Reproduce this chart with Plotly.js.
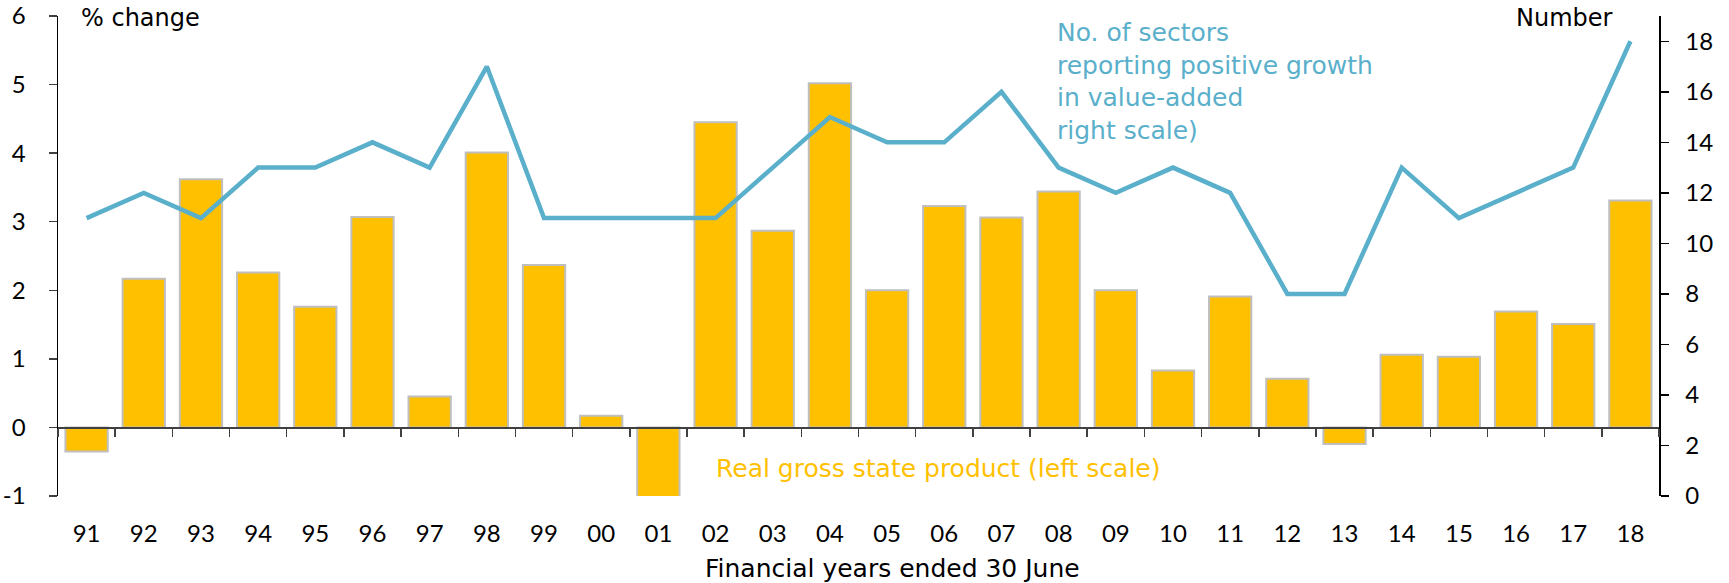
<!DOCTYPE html>
<html>
<head>
<meta charset="utf-8">
<script src="https://cdn.plot.ly/plotly-3.0.1.min.js"></script>
<style>html,body{margin:0;padding:0;background:#fff;}#chart{width:1729px;height:583px;}</style>
</head>
<body>
<div id="chart"></div>
<script>
const years = ["91","92","93","94","95","96","97","98","99","00","01","02","03","04","05","06","07","08","09","10","11","12","13","14","15","16","17","18"];
const gspGrowth = [-0.35,2.17,3.62,2.26,1.76,3.07,0.45,4.01,2.37,0.17,-1.02,4.45,2.87,5.02,2.00,3.23,3.06,3.44,2.00,0.83,1.91,0.71,-0.24,1.06,1.03,1.69,1.51,3.31];
const sectorsPositive = [11,12,11,13,13,14,13,17,11,11,11,11,13,15,14,14,16,13,12,13,12,8,8,13,11,12,13,18];
const leftTicks = [-1,0,1,2,3,4,5,6];
const rightTicks = [0,2,4,6,8,10,12,14,16,18];

const TICKFONT = "Lato, 'Open Sans', sans-serif";
const TEXTFONT = "'DejaVu Sans', Lato, sans-serif";
const BLUE = "#5AAFCB";
const GOLD = "#FFC000";

const traces = [
  {
    type: "bar", x: years, y: gspGrowth, xaxis: "x", yaxis: "y",
    width: 0.74,
    marker: {color: GOLD, line: {color: "#BFBFBF", width: 2}},
    hoverinfo: "skip", showlegend: false
  },
  {
    type: "scatter", mode: "lines", x: years, y: sectorsPositive, xaxis: "x2", yaxis: "y2",
    line: {color: BLUE, width: 4.5},
    hoverinfo: "skip", showlegend: false
  }
];

const tickFont = {family: TICKFONT, size: 24, color: "#000"};

const layout = {
  width: 1729, height: 583,
  margin: {l: 58, r: 70, t: 16, b: 87, pad: 0},
  paper_bgcolor: "#fff", plot_bgcolor: "#fff",
  font: {family: TICKFONT, size: 24, color: "#000"},
  showlegend: false,
  xaxis: {
    type: "category", categoryorder: "array", categoryarray: years,
    range: [-0.5, 27.5], showline: false, showgrid: false, zeroline: false,
    ticks: "", tickfont: tickFont, ticklabelstandoff: 21, fixedrange: true
  },
  xaxis2: {
    type: "category", categoryorder: "array", categoryarray: years,
    range: [-0.5, 27.5], overlaying: "x", anchor: "free", position: 1/7,
    showline: true, linecolor: "#404040", linewidth: 1.5,
    ticks: "outside", tickson: "boundaries", ticklen: 8, tickwidth: 1.5, tickcolor: "#404040",
    showticklabels: false, showgrid: false, zeroline: false, fixedrange: true
  },
  yaxis: {
    range: [-1, 6], tickvals: leftTicks, ticktext: leftTicks.map(String),
    showline: true, linecolor: "#000", linewidth: 1.5,
    ticks: "outside", ticklen: 8, tickwidth: 1.5, tickcolor: "#404040",
    showgrid: false, zeroline: false, tickfont: tickFont, ticklabelstandoff: 18,
    ticklabeloverflow: "allow", fixedrange: true
  },
  yaxis2: {
    range: [0, 19], tickvals: rightTicks, ticktext: rightTicks.map(String),
    overlaying: "y", side: "right", anchor: "x2",
    showline: true, linecolor: "#000", linewidth: 1.5,
    ticks: "outside", ticklen: 8, tickwidth: 1.5, tickcolor: "#000",
    showgrid: false, zeroline: false, tickfont: tickFont, ticklabelstandoff: 12,
    ticklabeloverflow: "allow", fixedrange: true
  },
  annotations: [
    {text: "% change", xref: "paper", yref: "paper", x: 0.0131, y: 0.996, xanchor: "left", yanchor: "middle",
     showarrow: false, font: {family: TEXTFONT, size: 24, color: "#000"}},
    {text: "Number", xref: "paper", yref: "paper", x: 0.9728, y: 0.996, xanchor: "right", yanchor: "middle",
     showarrow: false, font: {family: TEXTFONT, size: 24, color: "#000"}},
    {text: "No. of sectors<br>reporting positive growth<br>in value-added<br>right scale)", xref: "paper", yref: "paper",
     x: 0.6225, y: 1.0, xanchor: "left", yanchor: "top", align: "left",
     showarrow: false, font: {family: TEXTFONT, size: 25, color: BLUE}},
    {text: "Real gross state product (left scale)", xref: "paper", yref: "paper",
     x: 0.41, y: 0.057, xanchor: "left", yanchor: "middle",
     showarrow: false, font: {family: TEXTFONT, size: 25, color: GOLD}},
    {text: "Financial years ended 30 June", xref: "paper", yref: "paper",
     x: 0.5214, y: -0.15, xanchor: "center", yanchor: "middle",
     showarrow: false, font: {family: TEXTFONT, size: 25, color: "#000"}}
  ]
};

Plotly.newPlot("chart", traces, layout, {staticPlot: true, displayModeBar: false});
</script>
</body>
</html>
